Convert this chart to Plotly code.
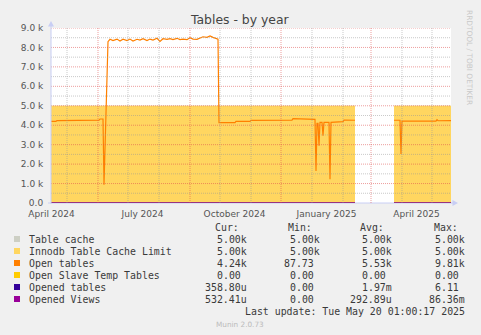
import plotly.graph_objects as go

# ---------------- data ----------------
open_dates = [
    "2024-04-15", "2024-04-20", "2024-04-21", "2024-04-25", "2024-04-26", "2024-06-02", "2024-06-03",
    "2024-06-06", "2024-06-07", "2024-06-11", "2024-06-13", "2024-06-16", "2024-06-20", "2024-06-23",
    "2024-06-26", "2024-06-30", "2024-07-03", "2024-07-06", "2024-07-10", "2024-07-13", "2024-07-16",
    "2024-07-20", "2024-07-23", "2024-07-26", "2024-07-30", "2024-08-02", "2024-08-05", "2024-08-09",
    "2024-08-12", "2024-08-15", "2024-08-19", "2024-08-22", "2024-08-25", "2024-08-29", "2024-09-01",
    "2024-09-04", "2024-09-08", "2024-09-11", "2024-09-14", "2024-09-18", "2024-09-21", "2024-09-24",
    "2024-09-28", "2024-09-29", "2024-09-30", "2024-10-16", "2024-10-17", "2024-10-31", "2024-11-01",
    "2024-11-10", "2024-11-11", "2024-11-20", "2024-11-21", "2024-12-12", "2024-12-13", "2024-12-17",
    "2024-12-18", "2025-01-04", "2025-01-05", "2025-01-06", "2025-01-07", "2025-01-08", "2025-01-09",
    "2025-01-11", "2025-01-12", "2025-01-13", "2025-01-18", "2025-01-19", "2025-01-20", "2025-02-01",
    "2025-02-02", "2025-02-13", "2025-02-14",
    "2025-03-24", "2025-03-30", "2025-03-31", "2025-04-01", "2025-05-05", "2025-05-06", "2025-05-07",
    "2025-05-20",
]
open_values = [
    4200, 4200, 4240, 4240, 4265, 4265, 4320,
    4320, 940, 8300, 8420, 8350, 8430, 8330,
    8420, 8350, 8430, 8330, 8420, 8380, 8450,
    8350, 8430, 8380, 8470, 8310, 8450, 8420,
    8450, 8400, 8470, 8400, 8430, 8400, 8500,
    8430, 8420, 8490, 8550, 8520, 8590, 8520,
    8430, 8430, 4130, 4130, 4200, 4200, 4250,
    4250, 4230, 4230, 4260, 4260, 4335, 4335,
    4300, 4300, 1650, 4100, 4100, 2950, 4150,
    4150, 3460, 4150, 4150, 1220, 4150, 4180,
    4265, 4255, None,
    4255, 4255, 2520, 4215, 4215, 4285, 4230,
    4240,
]

# the constant series exist in two runs of data separated by a gap
segment_dates = [["2024-04-15", "2025-02-13"], ["2025-03-24", "2025-05-20"]]
table_cache_values = [[5000, 5000], [5000, 5000]]
innodb_limit_values = [[5000, 5000], [5000, 5000]]
slave_temp_values = [[0, 0], [0, 0]]
opened_tables_values = [[0, 0], [0, 0]]
opened_views_values = [[0, 0], [0, 0]]

y_tick_values = [0, 1000, 2000, 3000, 4000, 5000, 6000, 7000, 8000, 9000]
y_tick_labels = ["0.0", "1.0 k", "2.0 k", "3.0 k", "4.0 k", "5.0 k", "6.0 k", "7.0 k", "8.0 k", "9.0 k"]
x_tick_values = ["2024-04-15 12:00", "2024-07-15 12:00", "2024-10-15 12:00", "2025-01-15 12:00", "2025-04-15 12:00"]
x_tick_labels = ["April 2024", "July 2024", "October 2024", "January 2025", "April 2025"]
minor_month_lines = ["2024-05-01", "2024-07-01", "2024-08-01", "2024-10-01", "2024-11-01",
                     "2025-01-01", "2025-02-01", "2025-04-01", "2025-05-01"]
major_month_lines = ["2024-06-01", "2024-09-01", "2024-12-01", "2025-03-01"]

legend_names = ["Table cache", "Innodb Table Cache Limit", "Open tables",
                "Open Slave Temp Tables", "Opened tables", "Opened Views"]
legend_colors = ["#CDCFC4", "#FFD660", "#FF8000", "#FFCC00", "#330099", "#990099"]
cur_values = ["5.00k", "5.00k", "4.24k", "0.00 ", "358.80u", "532.41u"]
min_values = ["5.00k", "5.00k", "87.73 ", "0.00 ", "0.00 ", "0.00 "]
avg_values = ["5.00k", "5.00k", "5.53k", "0.00 ", "1.97m", "292.89u"]
max_values = ["5.00k", "5.00k", "9.81k", "0.00 ", "6.11 ", "86.36m"]

# ---------------- geometry helpers (pixel -> paper) ----------------
L, R, T, B = 51, 451, 28, 203
W, H = 481, 335


def px(x):
    return (x - L) / (R - L)


def py(y):
    return (B - y) / (B - T)


fig = go.Figure()

for s, dates in enumerate(segment_dates):
    fig.add_trace(go.Scatter(x=dates, y=table_cache_values[s], mode="lines", fill="tozeroy",
                             line=dict(color=legend_colors[0], width=0), fillcolor=legend_colors[0],
                             showlegend=False, name=legend_names[0]))
    fig.add_trace(go.Scatter(x=dates, y=innodb_limit_values[s], mode="lines", fill="tozeroy",
                             line=dict(color=legend_colors[1], width=0), fillcolor=legend_colors[1],
                             showlegend=False, name=legend_names[1]))
fig.add_trace(go.Scatter(x=open_dates, y=open_values, mode="lines",
                         line=dict(color=legend_colors[2], width=1.2),
                         connectgaps=False, showlegend=False, name=legend_names[2]))
for vals, col, nm in [(slave_temp_values, legend_colors[3], legend_names[3]),
                      (opened_tables_values, legend_colors[4], legend_names[4]),
                      (opened_views_values, legend_colors[5], legend_names[5])]:
    for s, dates in enumerate(segment_dates):
        fig.add_trace(go.Scatter(x=dates, y=vals[s], mode="lines", line=dict(color=col, width=1.2),
                                 showlegend=False, name=nm))

shapes = []
GRID = "rgba(150,150,150,0.5)"
MGRID = "rgba(222,79,79,0.55)"
DASH = "1px,1px"
# horizontal grid
for v in range(500, 9000, 1000):
    shapes.append(dict(type="line", xref="paper", yref="y", x0=0, x1=1, y0=v, y1=v,
                       line=dict(color=GRID, width=1, dash=DASH), layer="above"))
for v in y_tick_values[1:]:
    shapes.append(dict(type="line", xref="paper", yref="y", x0=0, x1=1, y0=v, y1=v,
                       line=dict(color=MGRID, width=1, dash=DASH), layer="above"))
# vertical grid
for d in minor_month_lines:
    shapes.append(dict(type="line", xref="x", yref="paper", x0=d, x1=d, y0=0, y1=1,
                       line=dict(color=GRID, width=1, dash=DASH), layer="above"))
for d in major_month_lines:
    shapes.append(dict(type="line", xref="x", yref="paper", x0=d, x1=d, y0=0, y1=1,
                       line=dict(color=MGRID, width=1, dash=DASH), layer="above"))

AX = "#C8CEF4"
# axes with arrows
shapes.append(dict(type="line", xref="paper", yref="paper", x0=px(51), x1=px(51), y0=py(204), y1=py(25),
                   line=dict(color=AX, width=1), layer="above"))
shapes.append(dict(type="path", xref="paper", yref="paper",
                   path=f"M {px(48)} {py(26.5)} L {px(51)} {py(21)} L {px(54)} {py(26.5)} Z",
                   fillcolor=AX, line=dict(width=0), layer="above"))
shapes.append(dict(type="line", xref="paper", yref="paper", x0=px(48), x1=px(454), y0=py(203), y1=py(203),
                   line=dict(color=AX, width=1), layer="below"))
shapes.append(dict(type="path", xref="paper", yref="paper",
                   path=f"M {px(452.5)} {py(200)} L {px(458)} {py(203)} L {px(452.5)} {py(206)} Z",
                   fillcolor=AX, line=dict(width=0), layer="above"))

annotations = []
MONO = "DejaVu Sans Mono"
TXT = "#3A3A3A"
FS = 9.9
ROW0 = 239.0
ROWH = 12
nb = lambda s: s.replace(" ", "\u00a0")

# header
for label, xl in [("Cur:", 213), ("Min:", 286), ("Avg:", 357.7), ("Max:", 431.7)]:
    annotations.append(dict(text=label, x=px(xl), y=py(ROW0 - ROWH), xref="paper", yref="paper",
                            xanchor="left", yanchor="middle", showarrow=False,
                            font=dict(family=MONO, size=FS, color=TXT)))
for i, name in enumerate(legend_names):
    yc = ROW0 + i * ROWH
    annotations.append(dict(text=nb(name), x=px(26.7), y=py(yc), xref="paper", yref="paper",
                            xanchor="left", yanchor="middle", showarrow=False,
                            font=dict(family=MONO, size=FS, color=TXT)))
    shapes.append(dict(type="rect", xref="paper", yref="paper", x0=px(14), x1=px(20),
                       y0=py(yc - 3), y1=py(yc + 3), fillcolor=legend_colors[i], line=dict(width=0)))
    for col, xr in [(cur_values, 249.3), (min_values, 321.7), (avg_values, 394.3), (max_values, 466.7)]:
        annotations.append(dict(text=nb(col[i]), x=px(xr), y=py(yc), xref="paper", yref="paper",
                                xanchor="right", yanchor="middle", showarrow=False,
                                font=dict(family=MONO, size=FS, color=TXT)))

annotations.append(dict(text=nb("Last update: Tue May 20 01:00:17 2025"), x=px(466.7), y=py(ROW0 + 6 * ROWH),
                        xref="paper", yref="paper", xanchor="right", yanchor="middle", showarrow=False,
                        font=dict(family=MONO, size=FS, color=TXT)))
annotations.append(dict(text="Munin 2.0.73", x=px(240), y=py(324), xref="paper", yref="paper",
                        xanchor="center", yanchor="middle", showarrow=False,
                        font=dict(family="DejaVu Sans", size=7.3, color="#BBBBBB")))
annotations.append(dict(text="Tables - by year", x=px(240), y=py(19.5), xref="paper", yref="paper",
                        xanchor="center", yanchor="middle", showarrow=False,
                        font=dict(family="DejaVu Sans", size=12.4, color="#444444")))
annotations.append(dict(text="RRDTOOL / TOBI OETIKER", x=px(470), y=py(57), xref="paper", yref="paper",
                        xanchor="center", yanchor="middle", showarrow=False, textangle=90,
                        font=dict(family="DejaVu Sans", size=7.4, color="#C8C8C8")))

fig.update_layout(
    width=W, height=H,
    margin=dict(l=L, r=W - R, t=T, b=H - B, pad=0),
    paper_bgcolor="#F0F0F0", plot_bgcolor="#FFFFFF",
    shapes=shapes, annotations=annotations, showlegend=False,
    xaxis=dict(type="date", range=["2024-04-15", "2025-05-20"], tickmode="array",
               tickvals=x_tick_values, ticktext=x_tick_labels, showgrid=False, zeroline=False,
               showline=False, ticks="outside", ticklen=2, tickcolor="rgba(0,0,0,0)",
               tickfont=dict(family="DejaVu Sans", size=9, color="#555555"), fixedrange=True),
    yaxis=dict(range=[0, 9000], tickmode="array", tickvals=y_tick_values, ticktext=y_tick_labels,
               showgrid=False, zeroline=False, showline=False, ticks="outside", ticklen=5,
               tickcolor="rgba(0,0,0,0)", tickfont=dict(family="DejaVu Sans", size=9, color="#555555"),
               fixedrange=True),
)

fig.write_html("out.html", config={"displayModeBar": False})
